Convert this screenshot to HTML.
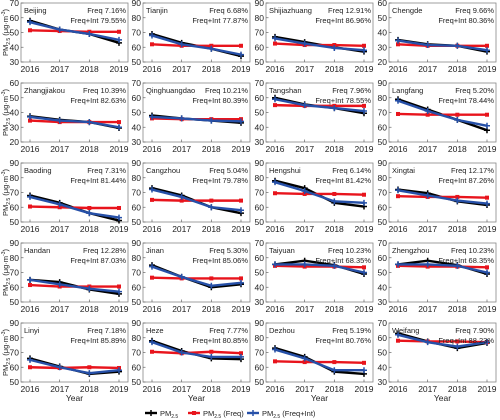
<!DOCTYPE html>
<html><head><meta charset="utf-8"><style>
body{margin:0;background:#fff}
svg{display:block;font-family:"Liberation Sans",sans-serif}
</style></head><body>
<svg id="c" width="500" height="420"></svg>
<script>
const years=[2016,2017,2018,2019];
const cities=["Beijing","Tianjin","Shijiazhuang","Chengde","Zhangjiakou","Qinghuangdao","Tangshan","Langfang","Baoding","Cangzhou","Hengshui","Xingtai","Handan","Jinan","Taiyuan","Zhengzhou","Linyi","Heze","Dezhou","Weifang"];
const yMins=[30,50,50,20,20,30,30,50,50,50,50,50,50,50,30,30,50,50,50,30];
const freqText=["7.16%","6.68%","12.91%","9.66%","10.39%","10.21%","7.96%","5.20%","7.31%","5.04%","6.14%","12.17%","12.28%","5.30%","10.23%","10.23%","7.18%","7.77%","5.19%","7.90%"];
const freqIntText=["79.55%","77.87%","86.96%","80.36%","82.63%","80.39%","78.55%","78.44%","81.44%","79.78%","81.42%","87.26%","87.03%","85.06%","68.35%","68.35%","85.89%","80.85%","80.76%","88.23%"];
const pm25=[[58,52,49,43],[69,63,59,54],[67,63.5,60,57],[35,32,31,27],[37.5,35,33.5,29.5],[48,46,44.5,43],[60,55.5,53,49.5],[79,72,65,58],[68,63,56,51],[73,68,60,56],[78,73,63,60.5],[72,69.5,64,61.5],[65,63.5,58.5,55.5],[75,67,60,62],[55.5,58,55,49],[55.5,58,55,49],[66,60.5,55.5,57],[78,71,66,65.5],[73,67,57,55.5],[63,57.5,53,56.5]];
const pmFreq=[[51.5,51,50.5,50.5],[62,61,61,61],[62.5,61.5,61.5,61],[32,31,31,31],[34.5,33.5,33.5,33.5],[46,45.5,45.5,45.5],[55,54.5,54.5,54.5],[69,68.5,68.5,68.5],[60.5,60,59.5,59.5],[65,64.5,64.5,64.5],[69.5,69,69,68.5],[67.5,67,67,66.5],[61.5,60.5,60.5,60.5],[66.5,66,66,66],[54.5,54,54,53.5],[54.5,54,54,53.5],[60,59.5,60,59.5],[70.5,69.5,70.5,69.5],[64,63.5,63.5,63],[58,57.5,57.5,57]];
const pmFreqInt=[[57,52,49,45],[68,62,59,55],[66,62.5,59.5,58],[34.5,31.5,31,28],[37,34.5,33.5,30],[47,46,44.5,44],[59,55,53,51],[78,71,65,61],[67,62,56,53],[72,67,60,58],[77,71,64,63],[71.5,68,64.5,62.5],[65,62,59,57],[74,67,61,63],[55.5,55.5,54.5,50],[55.5,55.5,54.5,50],[65,60,56,58],[77,70,67,67],[72,66,58,58],[62,57,54,57]];
const NS="http://www.w3.org/2000/svg";
const svg=document.getElementById('c');
function mk(tag,at,parent,txt){const e=document.createElementNS(NS,tag);for(const k in at)e.setAttribute(k,at[k]);if(txt!==undefined)e.textContent=txt;(parent||svg).appendChild(e);return e;}
const colL=[21,143,266,389],rowT=[3,83,163,243,323],W=107,H=59;
function marker(g,x,y,c,shape){
  if(shape==='sq'){const m=mk('rect',{x:x-2,y:y-2,width:4,height:4,fill:c},g);}
  else{const m=mk('path',{d:`M${x-3},${y}L${x+3},${y}M${x},${y-3}L${x},${y+3}`,stroke:c,'stroke-width':1.5},g);}
}
cities.forEach((city,i)=>{
  const x0=colL[i%4],y0=rowT[Math.floor(i/4)],ymin=yMins[i];
  const g=mk('g',{});
  
  
  const xs=k=>x0+9+k*(W-18)/3;
  const ys=v=>y0+H-(v-ymin)/40*H;
  const fr=mk('rect',{x:x0,y:y0,width:W,height:H,fill:'none',stroke:'#888','stroke-width':0.8},g);
  
  for(let t=0;t<=4;t++){const v=ymin+t*10,yy=ys(v);
    mk('line',{x1:x0,x2:x0+2.5,y1:yy,y2:yy,stroke:'#666','stroke-width':0.7},g);
    const tl=mk('text',{x:x0-2,y:yy+3,'font-size':8.5,'text-anchor':'end',fill:'#222'},g,String(v));
    }
  years.forEach((yr,k)=>{const xx=xs(k);
    mk('line',{x1:xx,x2:xx,y1:y0+H,y2:y0+H-2.5,stroke:'#666','stroke-width':0.7},g);
    const tl=mk('text',{x:xx,y:y0+H+10,'font-size':8.5,'text-anchor':'middle',fill:'#222'},g,String(yr));
    });
  const series=[[pm25[i],'#000','x',2.4],[pmFreq[i],'#e8141c','sq',2.4],[pmFreqInt[i],'#2650a8','x',2.4]];
  series.forEach(([d,c,s,w],si)=>{
    const l=mk('polyline',{points:d.map((v,k)=>xs(k)+','+ys(v)).join(' '),fill:'none',stroke:c,'stroke-width':w},g);
    
    
    d.forEach((v,k)=>marker(g,xs(k),ys(v),c,s));
  });
  const t1=mk('text',{x:x0+3,y:y0+10,'font-size':7.5,fill:'#222'},g,city);
  
  const t2=mk('text',{x:x0+W-2,y:y0+10,'font-size':7.5,'text-anchor':'end',fill:'#222'},g,'Freq '+freqText[i]);
  
  const t3=mk('text',{x:x0+W-2,y:y0+20,'font-size':7.5,'text-anchor':'end',fill:'#222'},g,'Freq+Int '+freqIntText[i]);
  
  if(i%4===0){const yl=mk('text',{transform:`translate(8,${y0+H/2}) rotate(-90)`,'font-size':7.5,'text-anchor':'middle',fill:'#222'},svg);
    
    yl.innerHTML='PM<tspan font-size="5" dy="2">2.5</tspan><tspan dy="-2"> (μg·m</tspan><tspan font-size="5" dy="-3">-3</tspan><tspan dy="3">)</tspan>';}
  if(i>=16){const xl=mk('text',{x:x0+W/2,y:401,'font-size':8.5,'text-anchor':'middle',fill:'#222'},svg,'Year');
    }
});
const legs=[[145,'#000','x','PM','2.5',''],[188,'#e8141c','sq','PM','2.5',' (Freq)'],[247,'#2650a8','x','PM','2.5',' (Freq+Int)']];
legs.forEach(([lx,c,s,a,b,d],j)=>{
  const g=mk('g',{});
  
  mk('line',{x1:lx,x2:lx+12,y1:413,y2:413,stroke:c,'stroke-width':2.4},g);
  marker(g,lx+6,413,c,s);
  const t=mk('text',{x:lx+15,y:416,'font-size':7.5,fill:'#222'},g);
  t.innerHTML=a+'<tspan font-size="5" dy="2">'+b+'</tspan><tspan dy="-2">'+d+'</tspan>';
});
</script>
</body></html>
